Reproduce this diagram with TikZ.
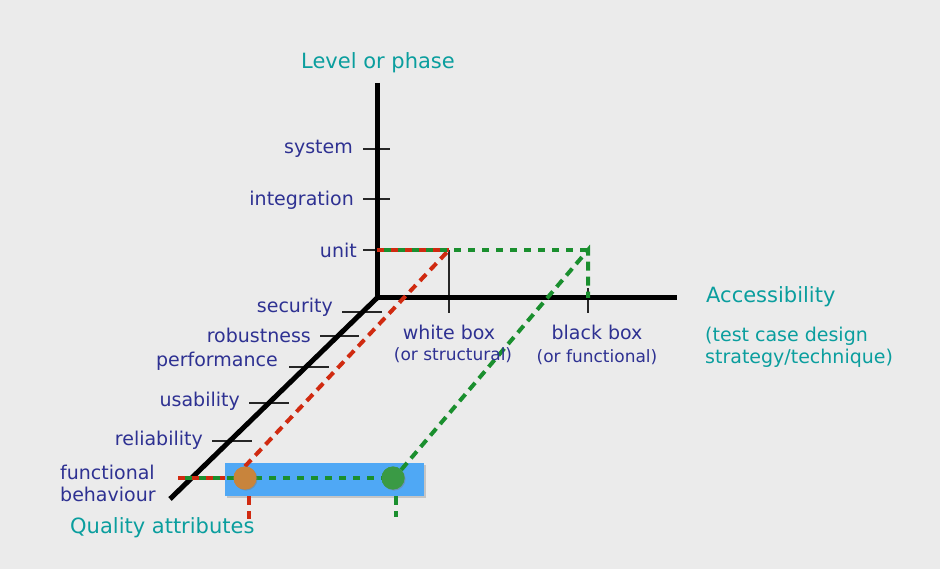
\documentclass[tikz,border=0pt]{standalone}
\usepackage{fontspec}
\setmainfont{DejaVu Sans}
\usetikzlibrary{shadows}
\definecolor{bgc}{HTML}{EBEBEB}
\definecolor{lblue}{HTML}{2E3192}
\definecolor{teal2}{HTML}{0A9E9E}
\definecolor{rdash}{HTML}{D02A10}
\definecolor{gdash}{HTML}{1A8F2E}
\definecolor{boxblue}{HTML}{4FA8F5}
\definecolor{orng}{HTML}{C8843C}
\definecolor{grn}{HTML}{3A9A45}
\tikzset{
  axis/.style={line width=5pt,black},
  tickline/.style={line width=1.3pt,black!85},
  lbl/.style={text=lblue,font=\fontsize{19}{22}\selectfont,inner sep=0pt},
  sublbl/.style={text=lblue,font=\fontsize{17}{20}\selectfont,inner sep=0pt},
  ttl/.style={text=teal2,font=\fontsize{21}{24}\selectfont,inner sep=0pt},
  rline/.style={rdash,line width=4pt,dash pattern=on 9pt off 6pt},
  gline/.style={gdash,line width=4pt,dash pattern=on 9pt off 6pt},
  altA/.style={dash pattern=on 7pt off 7pt},
  altB/.style={dash pattern=on 7pt off 7pt,dash phase=7pt},
  dot/.style={circle,minimum size=23pt,inner sep=0pt,drop shadow={shadow xshift=1pt,shadow yshift=-1pt,opacity=.3}}
}
\begin{document}
\begin{tikzpicture}[x=1pt,y=-1pt]
\fill[bgc] (0,0) rectangle (940,569);
\useasboundingbox (0,0) rectangle (940,569);
% key points
\coordinate (O) at (377,298);
\coordinate (Vtop) at (377,83);
\coordinate (Hend) at (677,298);
\coordinate (Dend) at (170,499);
\coordinate (U) at (377,250);
\coordinate (WB) at (449,250);
\coordinate (WBa) at (449,313);
\coordinate (BB) at (588,250);
\coordinate (BBax) at (588,298);
\coordinate (BBa) at (588,313);
\coordinate (FB) at (178,478);
\coordinate (RL) at (225,478);
\coordinate (Rup) at (249,496);
\coordinate (Rdn) at (249,519);
\coordinate (Gup) at (396,496);
\coordinate (Gdn) at (396,517);
% ticks
\draw[tickline] (363,149) -- (390,149);
\draw[tickline] (363,199) -- (390,199);
\draw[tickline] (363,250) -- (377,250);
\draw[tickline] (WB) -- (WBa);
\draw[tickline] (588,288) -- (BBa);
\draw[tickline] (342,312) -- (382,312);
\draw[tickline] (320,336) -- (359,336);
\draw[tickline] (289,367) -- (329,367);
\draw[tickline] (249,403) -- (289,403);
\draw[tickline] (212,441) -- (252,441);
% axes
\draw[axis] (Vtop) -- (O) -- (Hend);
\draw[axis] (O) -- (Dend);
% quality box
\node[fill=boxblue,minimum width=199pt,minimum height=33pt,inner sep=0pt,drop shadow={shadow xshift=2pt,shadow yshift=-2pt,opacity=.35}] (QB) at (324.5,479.5) {};
\node[dot,fill=orng] (OC) at (245,478) {};
\node[dot,fill=grn] (GC) at (393,478) {};
% dashed paths
\draw[rline,altA] (FB) -- (RL);
\draw[gline,altB] (FB) -- (GC.west);
\draw[rline] (OC.north) -- (WB);
\draw[rline,altA] (U) -- (WB);
\draw[gline,altB] (U) -- (BB);
\draw[gline] (GC.north east) -- (BB) -- (BBax);
\draw[rline] (Rup) -- (Rdn);
\draw[gline] (Gup) -- (Gdn);
\node[dot,fill=orng] at (OC) {};
\node[dot,fill=grn] at (GC) {};
% labels
\node[ttl] (lvl) at (378,63) {Level or phase};
\node[lbl,anchor=east] (sys) at (353,149) {system};
\node[lbl,anchor=east] (int) at (354,200) {integration};
\node[lbl,anchor=east] (unit) at (357,250) {unit};
\node[lbl,anchor=east] (sec) at (333,307) {security};
\node[lbl,anchor=east] (rob) at (311,335) {robustness};
\node[lbl,anchor=east] (perf) at (278,361) {performance};
\node[lbl,anchor=east] (usa) at (240,401) {usability};
\node[lbl,anchor=east] (rel) at (203,440) {reliability};
\node[lbl,anchor=west,align=left] (fb) at (60,483) {functional\\behaviour};
\node[ttl,anchor=west] (qa) at (70,528) {Quality attributes};
\node[lbl] (wb) at (449,332) {white box};
\node[sublbl] (wbs) at (453,355) {(or structural)};
\node[lbl] (bb) at (597,332) {black box};
\node[sublbl] (bbs) at (597,357) {(or functional)};
\node[ttl,anchor=west] (acc) at (706,297) {Accessibility};
\node[text=teal2,font=\fontsize{19}{22}\selectfont,inner sep=0pt,anchor=west,align=left] (tcd) at (705,347) {(test case design\\strategy/technique)};
\end{tikzpicture}
\end{document}
